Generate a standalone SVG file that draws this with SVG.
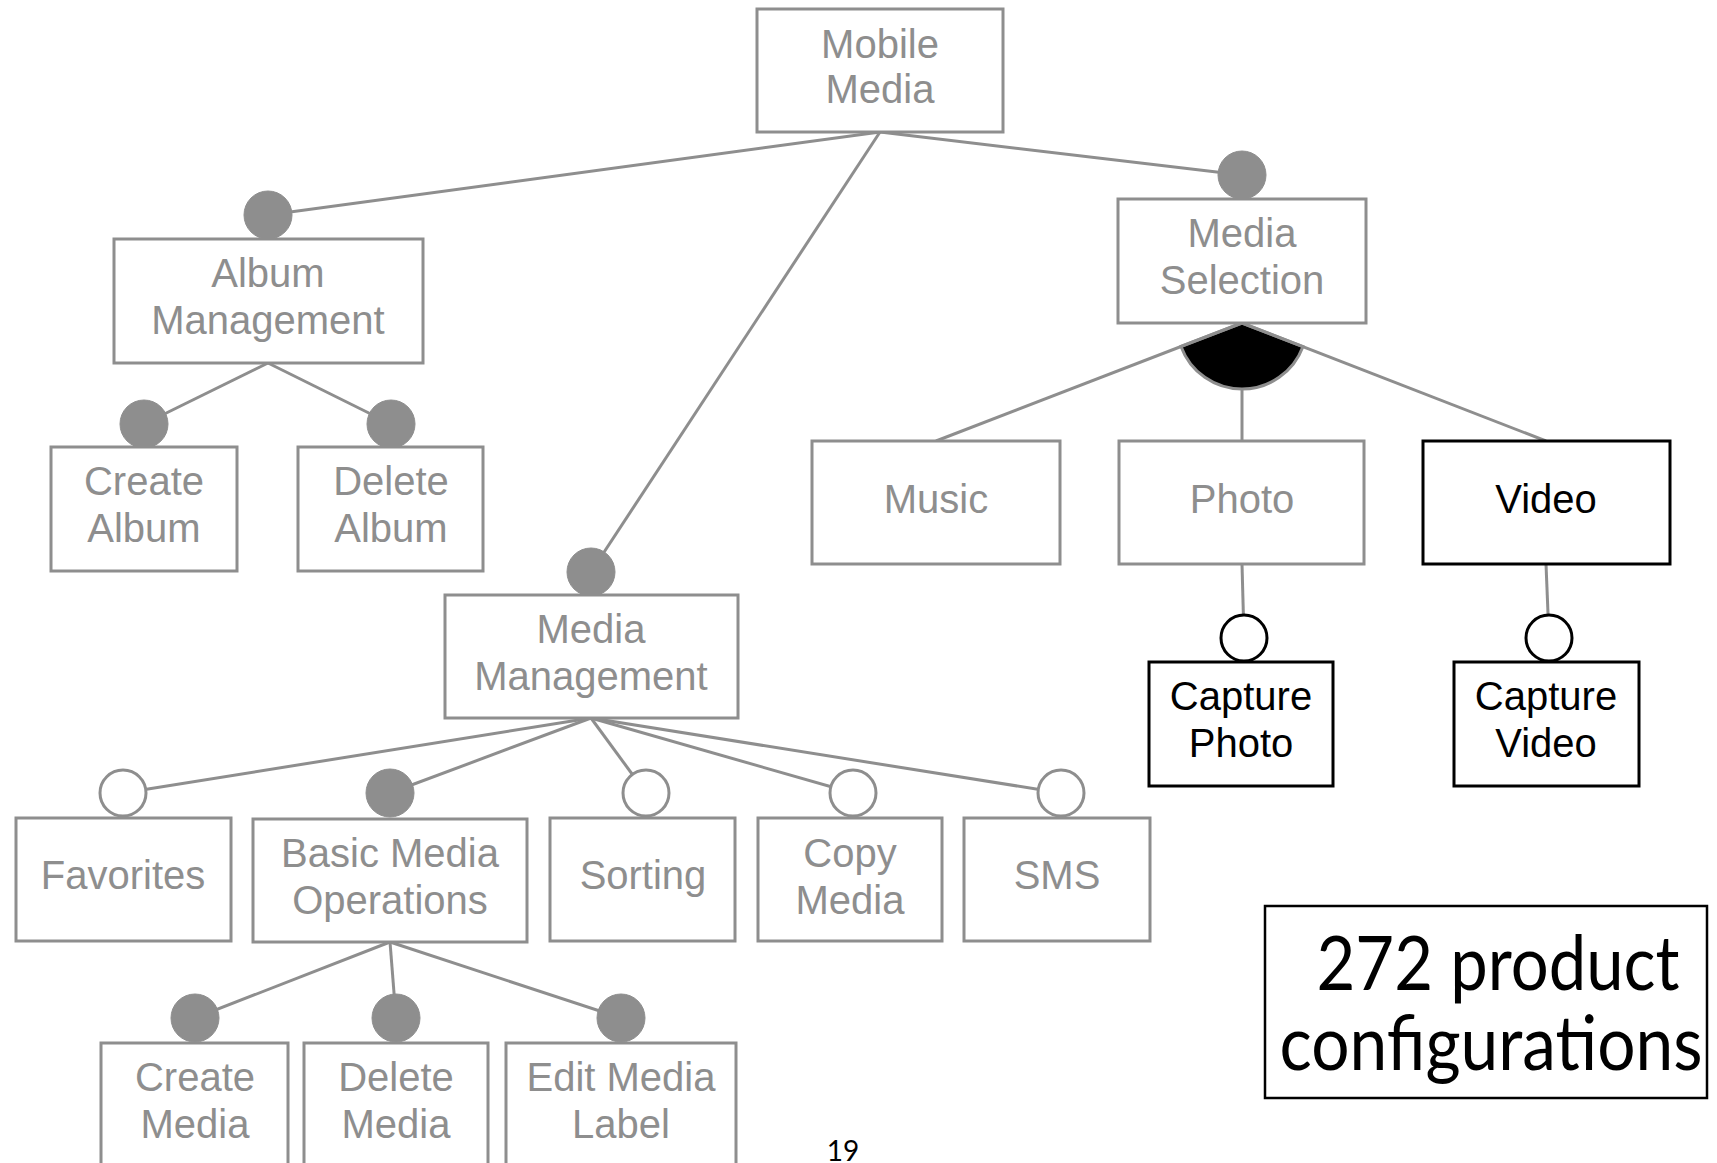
<svg xmlns="http://www.w3.org/2000/svg" width="1717" height="1163" viewBox="0 0 1717 1163">
<style>
.box{fill:#fff;stroke:#8e8e8e;stroke-width:3}
.bbox{fill:#fff;stroke:#000;stroke-width:3}
.t{font-family:"Liberation Sans",Arial,sans-serif;font-size:40px;fill:#8e8e8e;text-anchor:middle}
.tb{font-family:"Liberation Sans",Arial,sans-serif;font-size:40px;fill:#000;text-anchor:middle}
.ln{stroke:#8e8e8e;stroke-width:3;fill:none}
.mand{fill:#8e8e8e;stroke:#8e8e8e;stroke-width:1}
.opt{fill:#fff;stroke:#8e8e8e;stroke-width:3}
.optb{fill:#fff;stroke:#000;stroke-width:3}
.big{font-family:Lato,"Open Sans",sans-serif;fill:#000;text-anchor:middle}
</style>
<g id="connectors">
  <line class="ln" x1="880" y1="132" x2="268" y2="215"/>
  <line class="ln" x1="880" y1="132" x2="1242" y2="175"/>
  <line class="ln" x1="880" y1="132" x2="591" y2="572"/>
  <line class="ln" x1="268" y1="363" x2="144" y2="424"/>
  <line class="ln" x1="268" y1="363" x2="391" y2="424"/>
  <line class="ln" x1="591" y1="718" x2="123" y2="793"/>
  <line class="ln" x1="591" y1="718" x2="390" y2="793"/>
  <line class="ln" x1="591" y1="718" x2="646" y2="793"/>
  <line class="ln" x1="591" y1="718" x2="853" y2="793"/>
  <line class="ln" x1="591" y1="718" x2="1061" y2="793"/>
  <line class="ln" x1="390" y1="942" x2="195" y2="1018"/>
  <line class="ln" x1="390" y1="942" x2="396" y2="1018"/>
  <line class="ln" x1="390" y1="942" x2="621" y2="1018"/>
  <path d="M1242,323 L1181,346.4 A65,65 0 0 0 1303,346.5 Z" fill="#000" stroke="#8e8e8e" stroke-width="3"/>
  <line class="ln" x1="1242" y1="323" x2="936" y2="441"/>
  <line class="ln" x1="1242" y1="323" x2="1546" y2="441"/>
  <line class="ln" x1="1242" y1="388" x2="1242" y2="441"/>
  <line class="ln" x1="1242" y1="564" x2="1244" y2="638"/>
  <line class="ln" x1="1546" y1="564" x2="1549" y2="638"/>
  <circle class="mand" cx="268" cy="215" r="24"/>
  <circle class="mand" cx="1242" cy="175" r="24"/>
  <circle class="mand" cx="591" cy="572" r="24"/>
  <circle class="mand" cx="144" cy="424" r="24"/>
  <circle class="mand" cx="391" cy="424" r="24"/>
  <circle class="opt" cx="123" cy="793" r="23"/>
  <circle class="mand" cx="390" cy="793" r="24"/>
  <circle class="opt" cx="646" cy="793" r="23"/>
  <circle class="opt" cx="853" cy="793" r="23"/>
  <circle class="opt" cx="1061" cy="793" r="23"/>
  <circle class="mand" cx="195" cy="1018" r="24"/>
  <circle class="mand" cx="396" cy="1018" r="24"/>
  <circle class="mand" cx="621" cy="1018" r="24"/>
  <circle class="optb" cx="1244" cy="638" r="23"/>
  <circle class="optb" cx="1549" cy="638" r="23"/>
</g>
<g id="mobile-media"><rect class="box" x="757" y="9" width="246" height="123"/><text class="t" x="880" y="58">Mobile</text><text class="t" x="880" y="103">Media</text></g>
<g id="album-management"><rect class="box" x="114" y="239" width="309" height="124"/><text class="t" x="268" y="287">Album</text><text class="t" x="268" y="334">Management</text></g>
<g id="create-album"><rect class="box" x="51" y="447" width="186" height="124"/><text class="t" x="144" y="495">Create</text><text class="t" x="144" y="542">Album</text></g>
<g id="delete-album"><rect class="box" x="298" y="447" width="185" height="124"/><text class="t" x="391" y="495">Delete</text><text class="t" x="391" y="542">Album</text></g>
<g id="media-selection"><rect class="box" x="1118" y="199" width="248" height="124"/><text class="t" x="1242" y="247">Media</text><text class="t" x="1242" y="294">Selection</text></g>
<g id="music"><rect class="box" x="812" y="441" width="248" height="123"/><text class="t" x="936" y="513">Music</text></g>
<g id="photo"><rect class="box" x="1119" y="441" width="245" height="123"/><text class="t" x="1242" y="513">Photo</text></g>
<g id="video"><rect class="bbox" x="1423" y="441" width="247" height="123"/><text class="tb" x="1546" y="513">Video</text></g>
<g id="capture-photo"><rect class="bbox" x="1149" y="662" width="184" height="124"/><text class="tb" x="1241" y="710">Capture</text><text class="tb" x="1241" y="757">Photo</text></g>
<g id="capture-video"><rect class="bbox" x="1454" y="662" width="185" height="124"/><text class="tb" x="1546" y="710">Capture</text><text class="tb" x="1546" y="757">Video</text></g>
<g id="media-management"><rect class="box" x="445" y="595" width="293" height="123"/><text class="t" x="591" y="643">Media</text><text class="t" x="591" y="690">Management</text></g>
<g id="favorites"><rect class="box" x="16" y="818" width="215" height="123"/><text class="t" x="123" y="889">Favorites</text></g>
<g id="basic-media-operations"><rect class="box" x="253" y="819" width="274" height="123"/><text class="t" x="390" y="867">Basic Media</text><text class="t" x="390" y="914">Operations</text></g>
<g id="sorting"><rect class="box" x="550" y="818" width="185" height="123"/><text class="t" x="643" y="889">Sorting</text></g>
<g id="copy-media"><rect class="box" x="758" y="818" width="184" height="123"/><text class="t" x="850" y="867">Copy</text><text class="t" x="850" y="914">Media</text></g>
<g id="sms"><rect class="box" x="964" y="818" width="186" height="123"/><text class="t" x="1057" y="889">SMS</text></g>
<g id="create-media"><rect class="box" x="101" y="1043" width="187" height="140"/><text class="t" x="195" y="1091">Create</text><text class="t" x="195" y="1138">Media</text></g>
<g id="delete-media"><rect class="box" x="304" y="1043" width="184" height="140"/><text class="t" x="396" y="1091">Delete</text><text class="t" x="396" y="1138">Media</text></g>
<g id="edit-media-label"><rect class="box" x="506" y="1043" width="230" height="140"/><text class="t" x="621" y="1091">Edit Media</text><text class="t" x="621" y="1138">Label</text></g>
<g id="summary"><rect x="1265" y="906" width="442" height="192" fill="#fff" stroke="#000" stroke-width="2.5"/><text class="big" x="1498" y="990" font-size="76" textLength="363" lengthAdjust="spacingAndGlyphs">272 product</text><text class="big" x="1491" y="1070" font-size="76" textLength="423" lengthAdjust="spacingAndGlyphs">configurations</text></g>
<text x="843" y="1161" font-family="Lato,'Open Sans',sans-serif" font-size="28" fill="#000" text-anchor="middle">19</text>
</svg>
